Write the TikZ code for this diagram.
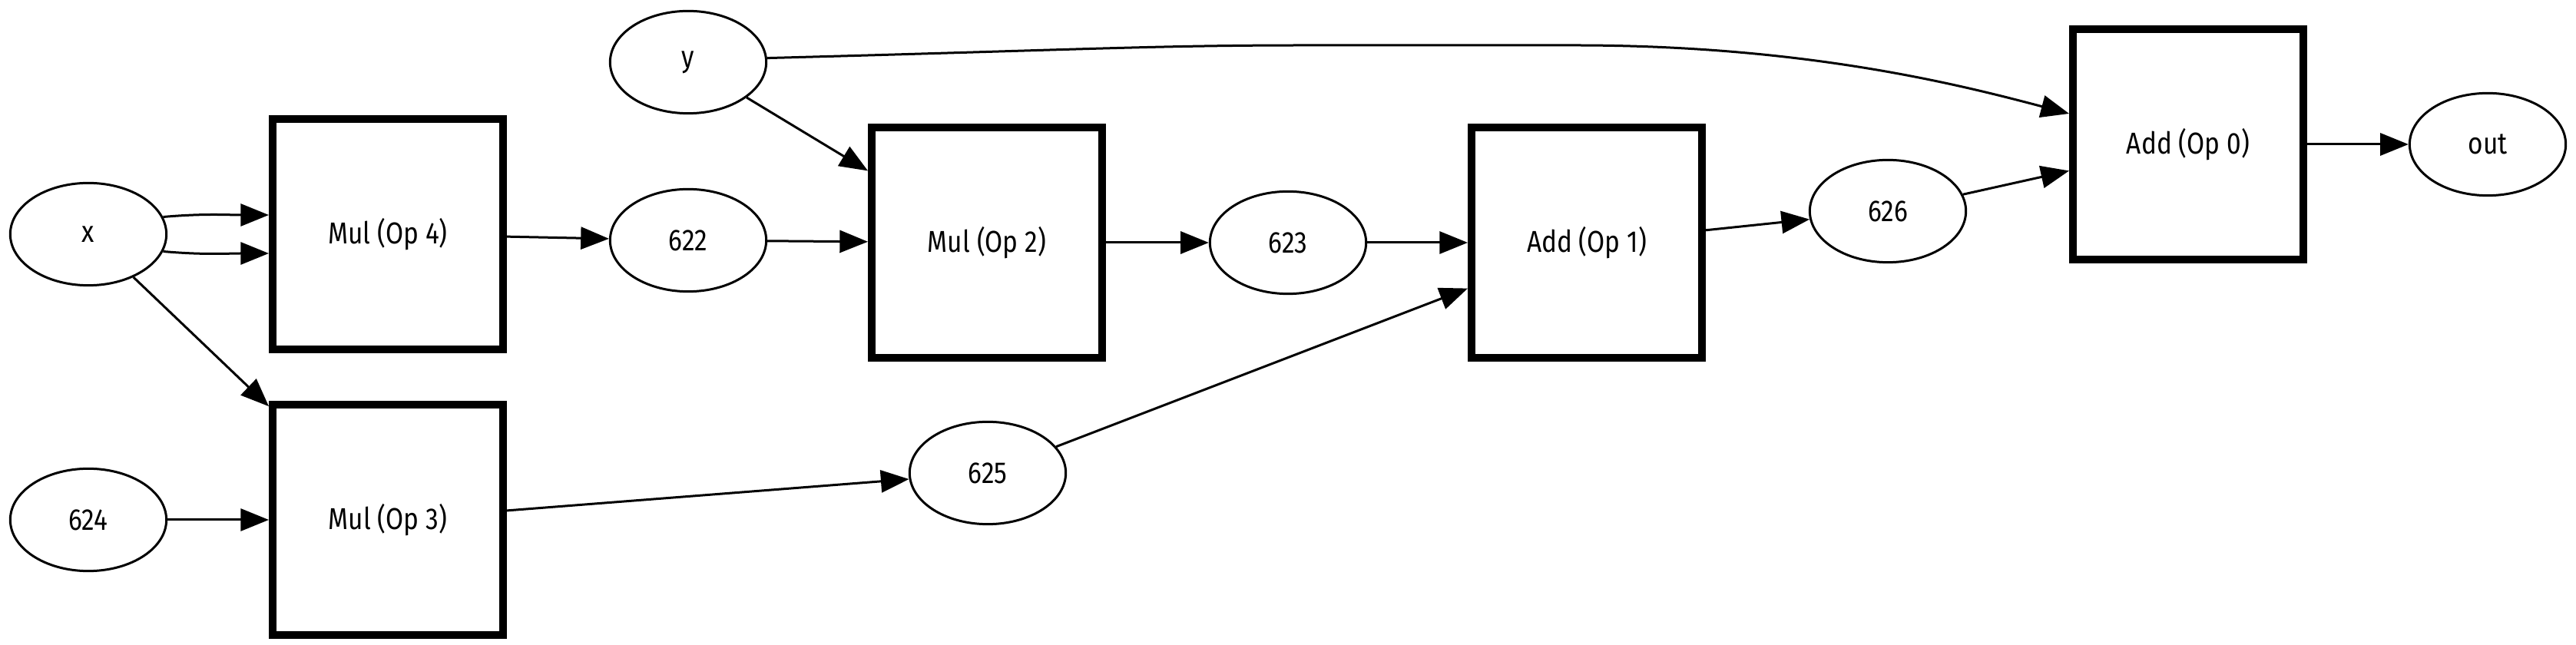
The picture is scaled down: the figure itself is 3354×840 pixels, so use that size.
\documentclass[tikz,border=0pt]{standalone}
\usepackage{fontspec}
\newfontfamily\graphfont[FakeStretch=0.85]{Fira Sans}
\usetikzlibrary{arrows.meta,calc,shapes.geometric}

\tikzset{
  val/.style={draw, ellipse, line width=0.9pt, minimum width=61pt, minimum height=40pt, inner sep=0pt},
  opbox/.style={draw, rectangle, line width=3pt, minimum size=90pt, inner sep=0pt},
  edge/.style={line width=0.9pt, -{Triangle[length=11pt,width=8.7pt]}}
}

\begin{document}
\begin{tikzpicture}[x=0.3pt, y=0.3pt, font=\graphfont\fontsize{11.8}{14}\selectfont]
\useasboundingbox (0,0) rectangle (3354,840);

\node [val] (x) at (115,535) {x};
\node [val] (n624) at (115,163) {624};
\node [val] (y) at (896,759) {y};
\node [val] (n622) at (896,527) {622};
\node [val] (n625) at (1286,224) {625};
\node [val] (n623) at (1677,524) {623};
\node [val] (n626) at (2458,565) {626};
\node [val] (out) at (3239,652) {out};

\node [opbox] (mul4) at (505,535) {Mul (Op 4)};
\node [opbox] (mul3) at (505,163) {Mul (Op 3)};
\node [opbox] (mul2) at (1285,524) {Mul (Op 2)};
\node [opbox] (add1) at (2066,524) {Add (Op 1)};
\node [opbox] (add0) at (2849,652) {Add (Op 0)};

\draw [edge] (x.13) to [out=5, in=180] ($(mul4.west)+(0,25)$);
\draw [edge] (x.-13) to [out=-5, in=180] ($(mul4.west)+(0,-25)$);
\draw [edge] (x) -- (mul3);
\draw [edge] (n624) -- (mul3);
\draw [edge] (mul4) -- (n622);
\draw [edge] (y) -- (mul2);
\draw [edge] (n622) -- (mul2);
\draw [edge] (mul3) -- (n625);
\draw [edge] (mul2) -- (n623);
\draw [edge] (n623) -- (add1);
\draw [edge] (n625) -- (add1);
\draw [edge] (add1) -- (n626);
\draw [edge] (y.3) .. controls (1400,775) and (1500,781) .. (1700,781) -- (2050,781)
  .. controls (2350,781) and (2550,730) .. ($(add0.west)+(0,40)$);
\draw [edge] (n626) -- (add0);
\draw [edge] (add0) -- (out);

\end{tikzpicture}
\end{document}
